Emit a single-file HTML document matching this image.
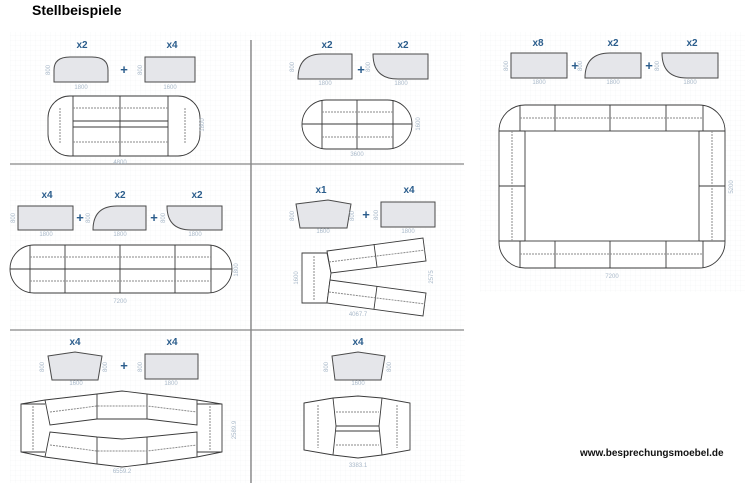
<!DOCTYPE html>
<html><head><meta charset="utf-8"><style>
html,body{margin:0;padding:0;background:#fff;}
svg{display:block;font-family:"Liberation Sans",sans-serif;}
.s{fill:#e5e6ea;stroke:#4a4a4a;stroke-width:1;}
.t{fill:#fff;stroke:#3a3a3a;stroke-width:0.9;}
.d{stroke:#8a8a8a;stroke-width:1;stroke-dasharray:2 1;fill:none;}
.l{stroke:#3a3a3a;stroke-width:0.9;fill:none;}
.x{fill:#2b5d8c;font-weight:bold;font-size:10px;text-anchor:middle;}
.p{fill:#2b5d8c;font-weight:bold;font-size:13px;text-anchor:middle;}
.m{fill:#a9b9c9;font-size:6px;text-anchor:middle;}
</style></head><body>
<svg width="745" height="483" viewBox="0 0 745 483">
<defs><pattern id="g" width="5" height="5" patternUnits="userSpaceOnUse"><path d="M5 0H0V5" fill="none" stroke="#f1f3f5" stroke-width="0.6"/></pattern></defs>
<rect x="10" y="32" width="455" height="451" fill="url(#g)"/>
<rect x="480" y="32" width="265" height="260" fill="url(#g)"/>
<text x="32" y="15" font-size="14" font-weight="bold" fill="#000">Stellbeispiele</text>
<line x1="251" y1="40" x2="251" y2="483" stroke="#555" stroke-width="1"/>
<line x1="10" y1="164" x2="464" y2="164" stroke="#888" stroke-width="1.2"/>
<line x1="10" y1="330" x2="464" y2="330" stroke="#888" stroke-width="1.2"/>

<!-- Panel 1 -->
<text class="x" x="82" y="48">x2</text><text class="x" x="172" y="48">x4</text>
<path class="s" d="M54 82V70Q54 57 70 57H92Q108 57 108 70V82Z"/>
<text class="p" x="124" y="74">+</text>
<rect class="s" x="145" y="57" width="50" height="25"/>
<text class="m" x="81" y="89">1800</text><text class="m" x="170" y="89">1600</text>
<text class="m" transform="translate(50,70) rotate(-90)">800</text><text class="m" transform="translate(142,70) rotate(-90)">800</text>
<rect class="t" x="48" y="96" width="152" height="60" rx="22"/>
<line class="l" x1="73" y1="121" x2="168" y2="121"/><line class="l" x1="73" y1="127" x2="168" y2="127"/>
<line class="l" x1="73" y1="96" x2="73" y2="156"/><line class="l" x1="120" y1="96" x2="120" y2="156"/><line class="l" x1="168" y1="96" x2="168" y2="156"/>
<line class="d" x1="73" y1="108" x2="168" y2="108"/><line class="d" x1="73" y1="142" x2="168" y2="142"/>
<line class="d" x1="60" y1="108" x2="60" y2="144"/><line class="d" x1="185" y1="108" x2="185" y2="144"/>
<text class="m" transform="translate(204,125) rotate(-90)">1800</text><text class="m" x="120" y="164">4800</text>

<!-- Panel 2 -->
<text class="x" x="327" y="48">x2</text><text class="x" x="403" y="48">x2</text>
<path class="s" d="M298 79Q298 54 322 54H352V79Z"/>
<text class="p" x="361" y="74">+</text>
<path class="s" d="M373 54H428V79H398Q373 79 373 54Z"/>
<text class="m" x="325" y="85">1800</text><text class="m" x="401" y="85">1800</text>
<text class="m" transform="translate(294,67) rotate(-90)">800</text><text class="m" transform="translate(370,67) rotate(-90)">800</text>
<rect class="t" x="302" y="100" width="110" height="49" rx="24.5"/>
<line class="l" x1="302" y1="124" x2="412" y2="124"/>
<line class="l" x1="322" y1="100" x2="322" y2="149"/><line class="l" x1="357" y1="100" x2="357" y2="149"/><line class="l" x1="393" y1="100" x2="393" y2="149"/>
<line class="d" x1="322" y1="112" x2="393" y2="112"/><line class="d" x1="322" y1="137" x2="393" y2="137"/>
<text class="m" transform="translate(420,124) rotate(-90)">1600</text><text class="m" x="357" y="156">3600</text>

<!-- Right panel -->
<text class="x" x="538" y="46">x8</text><text class="x" x="613" y="46">x2</text><text class="x" x="692" y="46">x2</text>
<rect class="s" x="511" y="53" width="56" height="25"/>
<text class="p" x="575" y="70">+</text>
<path class="s" d="M585 78Q585 53 610 53H641V78Z"/>
<text class="p" x="649" y="70">+</text>
<path class="s" d="M662 53H718V78H687Q662 78 662 53Z"/>
<text class="m" x="539" y="84">1800</text><text class="m" x="613" y="84">1800</text><text class="m" x="690" y="84">1800</text>
<text class="m" transform="translate(508,66) rotate(-90)">800</text><text class="m" transform="translate(582,66) rotate(-90)">800</text><text class="m" transform="translate(659,66) rotate(-90)">800</text>
<rect class="t" x="499" y="105" width="226" height="163" rx="26"/>
<rect class="l" x="525" y="131" width="174" height="110" fill="#fff"/>
<line class="l" x1="499" y1="131" x2="525" y2="131"/><line class="l" x1="699" y1="131" x2="725" y2="131"/>
<line class="l" x1="499" y1="241" x2="525" y2="241"/><line class="l" x1="699" y1="241" x2="725" y2="241"/>
<line class="l" x1="520" y1="105" x2="520" y2="131"/><line class="l" x1="555" y1="105" x2="555" y2="131"/><line class="l" x1="610" y1="105" x2="610" y2="131"/><line class="l" x1="666" y1="105" x2="666" y2="131"/><line class="l" x1="703" y1="105" x2="703" y2="131"/>
<line class="l" x1="520" y1="241" x2="520" y2="268"/><line class="l" x1="555" y1="241" x2="555" y2="268"/><line class="l" x1="610" y1="241" x2="610" y2="268"/><line class="l" x1="666" y1="241" x2="666" y2="268"/><line class="l" x1="703" y1="241" x2="703" y2="268"/>
<line class="l" x1="499" y1="186" x2="525" y2="186"/><line class="l" x1="699" y1="186" x2="725" y2="186"/>
<line class="d" x1="520" y1="118" x2="703" y2="118"/><line class="d" x1="520" y1="254" x2="703" y2="254"/>
<line class="d" x1="512" y1="131" x2="512" y2="241"/><line class="d" x1="712" y1="131" x2="712" y2="241"/>
<text class="m" transform="translate(733,187) rotate(-90)">5200</text><text class="m" x="612" y="278">7200</text>

<!-- Panel 3 -->
<text class="x" x="47" y="198">x4</text><text class="x" x="120" y="198">x2</text><text class="x" x="197" y="198">x2</text>
<rect class="s" x="18" y="206" width="55" height="24"/>
<text class="p" x="80" y="222">+</text>
<path class="s" d="M93 230Q93 206 117 206H146V230Z"/>
<text class="p" x="154" y="222">+</text>
<path class="s" d="M167 206H222V230H191Q167 230 167 206Z"/>
<text class="m" x="46" y="236">1800</text><text class="m" x="120" y="236">1800</text><text class="m" x="195" y="236">1800</text>
<text class="m" transform="translate(15,218) rotate(-90)">800</text><text class="m" transform="translate(90,218) rotate(-90)">800</text><text class="m" transform="translate(165,218) rotate(-90)">800</text>
<rect class="t" x="10" y="245" width="222" height="48" rx="24"/>
<line class="l" x1="10" y1="269" x2="232" y2="269"/>
<line class="l" x1="30" y1="245" x2="30" y2="293"/><line class="l" x1="65" y1="245" x2="65" y2="293"/><line class="l" x1="120" y1="245" x2="120" y2="293"/><line class="l" x1="175" y1="245" x2="175" y2="293"/><line class="l" x1="211" y1="245" x2="211" y2="293"/>
<line class="d" x1="30" y1="257" x2="211" y2="257"/><line class="d" x1="30" y1="281" x2="211" y2="281"/>
<text class="m" transform="translate(238,270) rotate(-90)">1800</text><text class="m" x="120" y="303">7200</text>

<!-- Panel 4 -->
<text class="x" x="321" y="193">x1</text><text class="x" x="409" y="193">x4</text>
<path class="s" d="M296 204L328 200L351 204L347 228L300 228Z"/>
<text class="p" x="366" y="219">+</text>
<rect class="s" x="381" y="202" width="54" height="25"/>
<text class="m" x="323" y="233">1600</text><text class="m" x="408" y="233">1800</text>
<text class="m" transform="translate(294,216) rotate(-90)">800</text><text class="m" transform="translate(354,216) rotate(-90)">800</text><text class="m" transform="translate(378,215) rotate(-90)">800</text>
<path class="t" d="M302 253L327 253L331 273L330 280L327 303L302 303Z"/>
<line class="d" x1="314" y1="256" x2="314" y2="300"/>
<path class="t" d="M327 251L423 238L426 261L331 273Z"/>
<line class="l" x1="374" y1="244" x2="377" y2="267"/><line class="d" x1="329" y1="262" x2="425" y2="250"/>
<path class="t" d="M330 280L426 293L423 316L327 303Z"/>
<line class="l" x1="377" y1="286" x2="374" y2="309"/><line class="d" x1="329" y1="292" x2="425" y2="304"/>
<text class="m" transform="translate(298,278) rotate(-90)">1600</text><text class="m" transform="translate(433,277) rotate(-90)">2575</text><text class="m" x="358" y="316">4067.7</text>

<!-- Panel 5 -->
<text class="x" x="75" y="345">x4</text><text class="x" x="172" y="345">x4</text>
<path class="s" d="M48 356L75 352L102 356L98 380L52 380Z"/>
<text class="p" x="124" y="370">+</text>
<rect class="s" x="145" y="354" width="53" height="25"/>
<text class="m" x="76" y="385">1600</text><text class="m" x="171" y="385">1800</text>
<text class="m" transform="translate(44,367) rotate(-90)">800</text><text class="m" transform="translate(107,367) rotate(-90)">800</text><text class="m" transform="translate(142,367) rotate(-90)">800</text>
<path class="t" d="M21 404L45 400L97 394L122 391L147 394L197 400L222 404L222 452L197 457L147 464L122 467L97 464L45 457L21 452Z"/>
<path class="l" d="M45 400L50 425L97 419L147 419L197 425L197 400"/>
<path class="l" d="M45 457L50 432L97 437L122 439L147 437L197 432L197 457"/>
<line class="l" x1="97" y1="394" x2="97" y2="419"/><line class="l" x1="147" y1="394" x2="147" y2="419"/>
<line class="l" x1="97" y1="437" x2="97" y2="464"/><line class="l" x1="147" y1="437" x2="147" y2="464"/>
<line class="l" x1="21" y1="404" x2="45" y2="404"/><line class="l" x1="21" y1="452" x2="45" y2="452"/>
<line class="l" x1="197" y1="404" x2="222" y2="404"/><line class="l" x1="197" y1="452" x2="222" y2="452"/>
<line class="d" x1="33" y1="406" x2="33" y2="450"/><line class="d" x1="210" y1="406" x2="210" y2="450"/>
<path class="d" d="M50 412L97 406L147 406L197 412"/><path class="d" d="M50 445L97 451L147 451L197 445"/>
<text class="m" transform="translate(236,430) rotate(-90)">2589.9</text><text class="m" x="122" y="473">6559.2</text>

<!-- Panel 6 -->
<text class="x" x="358" y="345">x4</text>
<path class="s" d="M332 356L358 352L385 356L381 380L335 380Z"/>
<text class="m" x="358" y="385">1600</text>
<text class="m" transform="translate(328,367) rotate(-90)">800</text><text class="m" transform="translate(391,367) rotate(-90)">800</text>
<path class="t" d="M304 403L333 398L358 396L382 398L410 403L410 450L382 455L358 458L333 455L304 450Z"/>
<path class="l" d="M333 398L336 426L333 455"/><path class="l" d="M382 398L379 426L382 455"/>
<line class="l" x1="336" y1="426" x2="379" y2="426"/><line class="l" x1="336" y1="431" x2="379" y2="431"/>
<line class="l" x1="304" y1="403" x2="304" y2="450"/>
<line class="d" x1="318" y1="405" x2="318" y2="448"/><line class="d" x1="397" y1="405" x2="397" y2="448"/>
<line class="d" x1="336" y1="412" x2="379" y2="412"/><line class="d" x1="336" y1="445" x2="379" y2="445"/>
<text class="m" x="358" y="467">3383.1</text>

<text x="580" y="456" font-size="10" font-weight="bold" fill="#111">www.besprechungsmoebel.de</text>
</svg>
</body></html>
